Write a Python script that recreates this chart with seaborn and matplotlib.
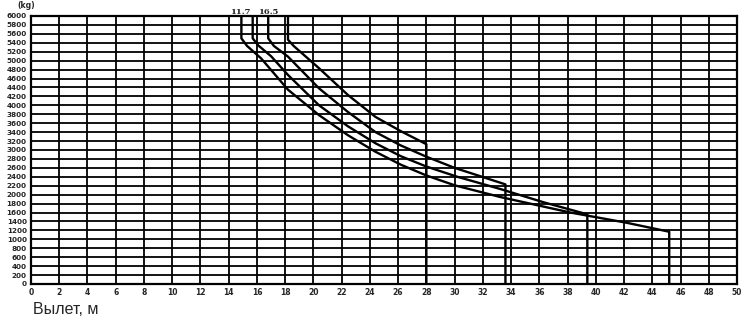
import matplotlib
matplotlib.use("Agg")
import matplotlib.pyplot as plt
import seaborn as sns
import pandas as pd

# ---- data ----
x_ticks = list(range(0, 51, 2))
y_ticks = list(range(0, 6001, 200))

curve_a_x = [14.9, 14.9, 15.3, 16.3, 18.2, 20.4, 22.45, 24.4, 26.2, 28.0, 30.0, 33.2, 38.2, 42.2, 45.2, 45.2]
curve_a_y = [6000, 5500, 5330, 5050, 4350, 3780, 3330, 2960, 2670, 2430, 2210, 1950, 1600, 1370, 1170, 0]

curve_b_x = [15.7, 15.7, 16.1, 17.0, 18.2, 20.4, 22.45, 24.4, 26.2, 28.0, 30.2, 33.2, 36.3, 39.4, 39.4]
curve_b_y = [6000, 5500, 5340, 5100, 4680, 4000, 3530, 3150, 2860, 2630, 2400, 2130, 1830, 1560, 0]

curve_c_x = [16.8, 16.8, 17.2, 18.2, 20.4, 22.45, 24.4, 26.2, 28.0, 30.0, 33.6, 33.6]
curve_c_y = [6000, 5500, 5330, 5090, 4380, 3850, 3400, 3100, 2850, 2600, 2230, 0]

curve_d_x = [18.2, 18.2, 18.6, 20.4, 22.45, 24.4, 26.2, 28.0, 28.0]
curve_d_y = [6000, 5470, 5330, 4830, 4230, 3740, 3420, 3130, 0]

top_labels = ["11.7", "16.5"]
top_label_x = [14.85, 16.8]

frames = []
for name, xs, ys in [("A", curve_a_x, curve_a_y), ("B", curve_b_x, curve_b_y),
                     ("C", curve_c_x, curve_c_y), ("D", curve_d_x, curve_d_y)]:
    frames.append(pd.DataFrame({"curve": name, "x": xs, "load": ys}))
df = pd.concat(frames, ignore_index=True)

sns.set_theme(style="white")
plt.rcParams["font.family"] = ["DejaVu Sans"]

fig = plt.figure(figsize=(7.5, 3.2), dpi=100)
ax = fig.add_axes([31/750, 1 - 284/320, (737 - 31)/750, (284 - 16)/320])

sns.lineplot(data=df, x="x", y="load", units="curve", estimator=None,
             sort=False, color="black", linewidth=1.7, ax=ax, legend=False)

ax.set_xlim(0, 50)
ax.set_ylim(0, 6000)
ax.set_xticks(x_ticks)
ax.set_yticks(y_ticks)
ax.set_xticklabels([str(v) for v in x_ticks], fontsize=5.5, fontweight="bold")
ax.set_yticklabels([str(v) for v in y_ticks], fontsize=5.2, fontweight="bold")
ax.tick_params(axis="both", length=0, pad=3)
ax.grid(True, color="black", linewidth=1.3)
for s in ax.spines.values():
    s.set_color("black")
    s.set_linewidth(1.6)
ax.set_xlabel("")
ax.set_ylabel("")

for t, xv in zip(top_labels, top_label_x):
    ax.text(xv, 6000, t, ha="center", va="bottom", fontsize=6,
            fontweight="bold", family="DejaVu Serif", clip_on=False)

fig.text(17/750, 1 - 6/320, "(kg)", fontsize=5.5, fontweight="bold",
         ha="left", va="center")
fig.text(33/750, 1 - 310/320, "Вылет, м", fontsize=11.5,
         family="Liberation Sans", ha="left", va="center")

fig.savefig("out.png", dpi=100, facecolor="white")
